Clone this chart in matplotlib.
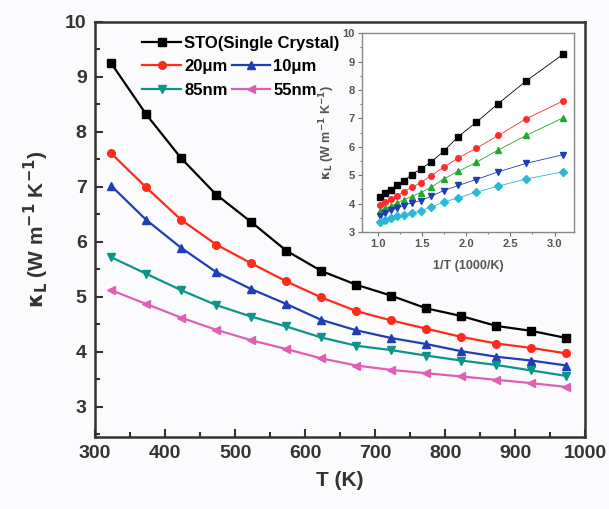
import matplotlib
matplotlib.use("Agg")
import matplotlib.pyplot as plt
from matplotlib.ticker import MultipleLocator

# ---------------- data ----------------
T = [323, 373, 423, 473, 523, 573, 623, 673, 723, 773, 823, 873, 923, 973]
sto = [9.25, 8.32, 7.52, 6.86, 6.36, 5.84, 5.47, 5.22, 5.02, 4.79, 4.65, 4.47, 4.38, 4.25]
um20 = [7.61, 6.99, 6.40, 5.95, 5.61, 5.28, 4.99, 4.74, 4.57, 4.42, 4.27, 4.15, 4.07, 3.97]
um10 = [7.02, 6.40, 5.89, 5.45, 5.14, 4.87, 4.58, 4.39, 4.25, 4.14, 4.01, 3.91, 3.84, 3.75]
nm85 = [5.72, 5.42, 5.12, 4.85, 4.64, 4.46, 4.26, 4.11, 4.03, 3.93, 3.84, 3.76, 3.66, 3.56]
nm55 = [5.12, 4.87, 4.62, 4.40, 4.21, 4.05, 3.88, 3.75, 3.67, 3.61, 3.55, 3.49, 3.43, 3.36]
labels = ["STO(Single Crystal)", "20\u03bcm", "10\u03bcm", "85nm", "55nm"]

main_colors = ["#000000", "#ff2a1a", "#1f3db5", "#0d9488", "#e05fb4"]
main_markers = ["s", "o", "^", "v", "<"]
inset_colors = ["#000000", "#ff2a2a", "#20a830", "#1f3db5", "#2cb8d4"]
inset_markers = ["s", "o", "^", "v", "D"]
series = [sto, um20, um10, nm85, nm55]

plt.rcParams['font.family'] = ['Liberation Sans', 'DejaVu Sans']
plt.rcParams['font.weight'] = 'bold'
plt.rcParams['mathtext.default'] = 'bf'

bg = "#fbfbfd"
fig = plt.figure(figsize=(6.09, 5.09), dpi=100, facecolor=bg)
ax = fig.add_axes([0.156, 0.1415, 0.805, 0.8155], facecolor=bg)

handles = []
for y, c, m, lab in zip(series, main_colors, main_markers, labels):
    h, = ax.plot(T, y, color=c, marker=m, markersize=5.5, lw=1.6, label=lab)
    handles.append(h)

ax.set_xlim(300, 1000)
ax.set_ylim(2.45, 10)
ax.xaxis.set_major_locator(MultipleLocator(100))
ax.xaxis.set_minor_locator(MultipleLocator(50))
ax.yaxis.set_major_locator(MultipleLocator(1))
ax.yaxis.set_minor_locator(MultipleLocator(0.5))
ax.tick_params(which='both', direction='in', top=False, right=False, width=1.5, colors='#333333')
ax.tick_params(which='major', length=6, labelsize=14, pad=6)
ax.tick_params(which='minor', length=3.5)
for lbl in ax.get_xticklabels() + ax.get_yticklabels():
    lbl.set_fontweight('bold')
for sp in ax.spines.values():
    sp.set_linewidth(1.8)
    sp.set_color('#333333')
ax.set_xlabel("T (K)", fontsize=15, fontweight='bold', color='#333333', labelpad=6)
ax.set_ylabel(r"$\kappa_L$ (W m$^{-1}$ K$^{-1}$)", fontsize=15, fontweight='bold', color='#333333', labelpad=10)

leg1 = ax.legend(handles[:1], labels[:1], loc='upper left', bbox_to_anchor=(0.09, 0.975),
                 frameon=False, fontsize=12, handlelength=2.3, handletextpad=0.2,
                 borderaxespad=0, borderpad=0.2)
for t in leg1.get_texts():
    t.set_fontweight('bold')
ax.add_artist(leg1)
leg2 = ax.legend([handles[1], handles[3], handles[2], handles[4]],
                 [labels[1], labels[3], labels[2], labels[4]],
                 loc='upper left', bbox_to_anchor=(0.09, 0.918), ncol=2,
                 frameon=False, fontsize=12, handlelength=2.3, handletextpad=0.2,
                 columnspacing=0.25, borderaxespad=0, borderpad=0.2, labelspacing=0.5)
for t in leg2.get_texts():
    t.set_fontweight('bold')

# ---------------- inset ----------------
axi = fig.add_axes([0.594, 0.544, 0.3485, 0.391], facecolor='white')
invT = [1000.0 / t for t in T]
for y, c, m in zip(series, inset_colors, inset_markers):
    axi.plot(invT, y, color=c, marker=m, markersize=4, lw=0.6)
axi.set_xlim(0.82, 3.22)
axi.set_ylim(3, 10)
axi.xaxis.set_major_locator(MultipleLocator(0.5))
axi.xaxis.set_minor_locator(MultipleLocator(0.25))
axi.yaxis.set_major_locator(MultipleLocator(1))
axi.yaxis.set_minor_locator(MultipleLocator(0.5))
axi.tick_params(which='both', direction='out', colors='#777777', width=0.8)
axi.tick_params(which='major', length=3, labelsize=8, pad=2, labelcolor='#555555')
axi.tick_params(which='minor', length=1.5)
for lbl in axi.get_xticklabels() + axi.get_yticklabels():
    lbl.set_fontweight('bold')
for sp in axi.spines.values():
    sp.set_linewidth(1.0)
    sp.set_color('#888888')
axi.set_xlabel("1/T (1000/K)", fontsize=9, fontweight='bold', color='#555555', labelpad=8)
axi.set_ylabel(r"$\kappa_L$ (W m$^{-1}$ K$^{-1}$)", fontsize=9, fontweight='bold', color='#555555', labelpad=4)

fig.savefig("out.png", dpi=100, facecolor=bg)
